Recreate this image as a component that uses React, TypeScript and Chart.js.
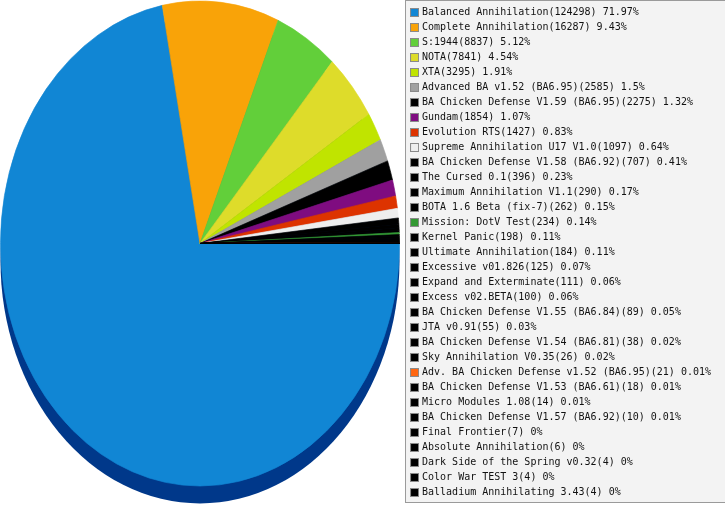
import { useEffect, useRef } from "react"
import { Chart, registerables } from "chart.js"

Chart.register(...registerables)

// mods and how many games were played with each
const mods = [
  "Balanced Annihilation",
  "Complete Annihilation",
  "S:1944",
  "NOTA",
  "XTA",
  "Advanced BA v1.52 (BA6.95)",
  "BA Chicken Defense V1.59 (BA6.95)",
  "Gundam",
  "Evolution RTS",
  "Supreme Annihilation U17 V1.0",
  "BA Chicken Defense V1.58 (BA6.92)",
  "The Cursed 0.1",
  "Maximum Annihilation V1.1",
  "BOTA 1.6 Beta (fix-7)",
  "Mission: DotV Test",
  "Kernel Panic",
  "Ultimate Annihilation",
  "Excessive v01.826",
  "Expand and Exterminate",
  "Excess v02.BETA",
  "BA Chicken Defense V1.55 (BA6.84)",
  "JTA v0.91",
  "BA Chicken Defense V1.54 (BA6.81)",
  "Sky Annihilation V0.35",
  "Adv. BA Chicken Defense v1.52 (BA6.95)",
  "BA Chicken Defense V1.53 (BA6.61)",
  "Micro Modules 1.08",
  "BA Chicken Defense V1.57 (BA6.92)",
  "Final Frontier",
  "Absolute Annihilation",
  "Dark Side of the Spring v0.32",
  "Color War TEST 3",
  "Balladium Annihilating 3.43",
]

const games = [
  124298, 16287, 8837, 7841, 3295, 2585, 2275, 1854, 1427, 1097, 707, 396, 290,
  262, 234, 198, 184, 125, 111, 100, 89, 55, 38, 26, 21, 18, 14, 10, 7, 6, 4, 4,
  4,
]

const colors = [
  "#1186d4", "#f9a308", "#62cf3a", "#dedc2a", "#c0e400", "#a0a0a0", "#000000",
  "#7f0c80", "#dd3300", "#eeeeee", "#000000", "#000000", "#000000", "#000000",
  "#339933", "#000000", "#000000", "#000000", "#000000", "#000000", "#000000",
  "#000000", "#000000", "#000000", "#ff6611", "#000000", "#000000", "#000000",
  "#000000", "#000000", "#000000", "#000000", "#000000",
]

const total = games.reduce((a, b) => a + b, 0)
const pct = (v: number) => Math.round((v / total) * 10000) / 100

// little 9x9 squares with a grey frame for the legend
function swatch(color: string) {
  const c = document.createElement("canvas")
  c.width = 9
  c.height = 9
  const g = c.getContext("2d")!
  g.fillStyle = "#8a8a8a"
  g.fillRect(0, 0, 9, 9)
  g.fillStyle = color
  g.fillRect(1, 1, 7, 7)
  return c
}

// fake 3d: squash the pie into an ellipse and put a dark rim under it
const pie3d = {
  id: "pie3d",
  beforeDraw(chart: any) {
    const { ctx, legend } = chart
    ctx.save()
    ctx.fillStyle = "#f3f3f3"
    ctx.strokeStyle = "#9a9a9a"
    ctx.lineWidth = 1
    ctx.fillRect(legend.left - 1.5, 0.5, 400, 502)
    ctx.strokeRect(legend.left - 1.5, 0.5, 400, 502)
    ctx.restore()
  },
  beforeDatasetsDraw(chart: any) {
    const arc = chart.getDatasetMeta(0).data[0]
    const { ctx } = chart
    const cx = 200, cy = 243.5, rx = 199.5, ry = 242.5
    ctx.save()
    ctx.fillStyle = "#00388a"
    ctx.beginPath()
    ctx.ellipse(cx, cy + 17.5, rx, ry, 0, 0, Math.PI * 2)
    ctx.fill()
    ctx.translate(cx, cy)
    ctx.scale(rx / arc.outerRadius, ry / arc.outerRadius)
    ctx.translate(-arc.x, -arc.y)
  },
  afterDatasetsDraw(chart: any) {
    chart.ctx.restore()
  },
}

export default function App() {
  const chartRef = useRef<HTMLCanvasElement>(null)
  const chartInstance = useRef<Chart | null>(null)

  useEffect(() => {
    document.body.style.margin = "0"
    if (!chartRef.current) return
    const ctx = chartRef.current.getContext("2d")
    if (!ctx) return

    const swatches = colors.map(swatch)

    chartInstance.current = new Chart(ctx, {
      type: "pie",
      data: {
        labels: mods,
        datasets: [
          {
            data: games,
            backgroundColor: colors,
            borderColor: colors,
            borderWidth: 0.6,
          },
        ],
      },
      options: {
        responsive: true,
        maintainAspectRatio: false,
        animation: false,
        rotation: 90,
        layout: { padding: { top: 2.5, right: 4 } },
        plugins: {
          tooltip: { enabled: false },
          legend: {
            position: "right",
            align: "start",
            labels: {
              usePointStyle: true,
              boxWidth: 5,
              boxHeight: 9,
              padding: 5,
              color: "#111111",
              font: { family: "'DejaVu Sans Mono', monospace", size: 10 },
              generateLabels: () =>
                mods.map((m, i) => ({
                  text: `${m}(${games[i]}) ${pct(games[i])}%`,
                  fillStyle: colors[i],
                  strokeStyle: "#8a8a8a",
                  lineWidth: 1,
                  pointStyle: swatches[i] as any,
                  hidden: false,
                  index: i,
                  fontColor: "#111111",
                })),
            },
          },
        },
      },
      plugins: [pie3d],
    })

    return () => {
      if (chartInstance.current) {
        chartInstance.current.destroy()
        chartInstance.current = null
      }
    }
  }, [])

  return (
    <div style={{ width: 725, height: 505, position: "relative" }}>
      <canvas ref={chartRef} />
    </div>
  )
}
